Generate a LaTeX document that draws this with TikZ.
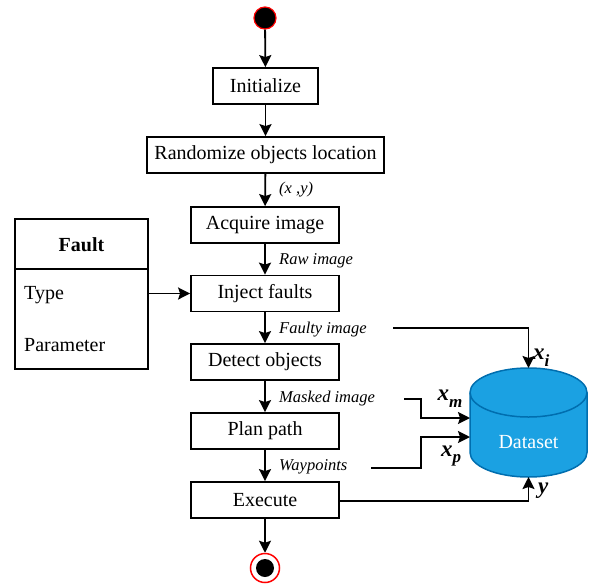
\documentclass[tikz,border=0pt]{standalone}
\usepackage{fontspec}
\setmainfont{Liberation Serif}
\usetikzlibrary{arrows.meta,shapes.geometric}
\definecolor{dsfill}{HTML}{1BA1E2}
\definecolor{dsdraw}{HTML}{006EAF}
\definecolor{startred}{HTML}{FF0000}
\newcommand\mlbl[2]{{\fontsize{23}{23}\selectfont\bfseries\itshape #1\raisebox{-0.3em}{\fontsize{17}{17}\selectfont #2}}}
\tikzset{
  stepbox/.style={draw=black, line width=1.8pt, fill=white, minimum height=36pt, inner sep=0pt, font=\fontsize{20}{20}\selectfont},
  arr/.style={line width=1.8pt, -{Stealth[length=12pt,width=12pt,inset=2pt]}},
  lbl/.style={font=\fontsize{16.5}{17}\selectfont\itshape, inner sep=0pt, anchor=west},
  fieldtxt/.style={font=\fontsize{20}{20}\selectfont, inner sep=0pt, anchor=west},
}
\begin{document}
\begin{tikzpicture}[x=1pt,y=-1pt]
\useasboundingbox (0,0) rectangle (592,584);
% start / end
\node[circle, fill=black, draw=startred, line width=1.2pt, minimum size=22pt, inner sep=0pt] (start) at (265,18) {};
\node[circle, draw=startred, line width=1.5pt, fill=white, minimum size=29pt, inner sep=0pt] (stop) at (265,568) {};
\node[circle, fill=black, minimum size=18pt, inner sep=0pt] (stopdot) at (265,568) {};
% process boxes
\node[stepbox, minimum width=105pt] (init) at (265.5,86) {Initialize};
\node[stepbox, minimum width=237pt] (rand) at (265.5,155) {Randomize objects location};
\node[stepbox, minimum width=148pt] (acq) at (265,225) {Acquire image};
\node[stepbox, minimum width=148pt] (inj) at (265,293.5) {Inject faults};
\node[stepbox, minimum width=148pt] (det) at (265,362) {Detect objects};
\node[stepbox, minimum width=148pt] (plan) at (265,431) {Plan path};
\node[stepbox, minimum width=148pt] (exec) at (265,500) {Execute};
% fault class box
\node[draw=black, line width=1.8pt, minimum width=133pt, minimum height=150pt, inner sep=0pt] (fault) at (81.5,294) {};
\draw[line width=1.8pt] (fault.west |- 0,269) coordinate (hl) -- (fault.east |- hl);
\node[font=\fontsize{20}{20}\selectfont\bfseries] (faultttl) at (81.5,245) {Fault};
\node[fieldtxt] (ftype) at (24,295) {Type};
\node[fieldtxt] (fparam) at (24,345) {Parameter};
% dataset cylinder
\def\rx{58.5}\def\ry{24.5}
\fill[dsfill] (470,392.5) -- (470,452.5) arc[start angle=180,end angle=0,x radius=\rx,y radius=\ry] -- (587,392.5) arc[start angle=0,end angle=-180,x radius=\rx,y radius=\ry] -- cycle;
\draw[dsdraw, line width=1.5pt] (470,392.5) -- (470,452.5) arc[start angle=180,end angle=0,x radius=\rx,y radius=\ry] -- (587,392.5) arc[start angle=0,end angle=-180,x radius=\rx,y radius=\ry] -- cycle;
\draw[dsdraw, line width=1.5pt] (470,392.5) arc[start angle=180,end angle=0,x radius=\rx,y radius=\ry];
\node[text=white, font=\fontsize{20}{20}\selectfont] (ds) at (528.5,442) {Dataset};
\coordinate (dstop) at (528.5,368);
\coordinate (dsbot) at (528.5,477);
\coordinate (dsm) at (470,418);
\coordinate (dsp) at (470,437);
% main flow
\draw[arr] (start) -- (init);
\draw[arr] (init) -- (rand);
\draw[arr] (rand) -- (acq);
\node[lbl] (lxy) at (279,190) {(x ,y)};
\draw[arr] (acq) -- (inj);
\node[lbl] (lraw) at (279,261) {Raw image};
\draw[arr] (inj) -- (det);
\node[lbl] (lfaulty) at (279,330) {Faulty image};
\draw[arr] (det) -- (plan);
\node[lbl] (lmask) at (279,399) {Masked image};
\draw[arr] (plan) -- (exec);
\node[lbl] (lway) at (279,467) {Waypoints};
\draw[arr] (exec) -- (stop);
\draw[arr] (fault.east |- inj.west) -- (inj.west);
% dataset inputs
\coordinate (fi) at (393,328);
\draw[arr] (fi) -| (dstop);
\coordinate (mi) at (404,399);
\draw[arr] (mi) -- (421,399) |- (dsm);
\coordinate (pi) at (371,468);
\draw[arr] (pi) -- (421,468) |- (dsp);
\draw[arr] (exec.east |- 0,501) -| (dsbot);
\node[inner sep=0pt, anchor=west] (lxi) at (533,358) {\mlbl{x}{i}};
\node[inner sep=0pt] (lxm) at (450,399) {\mlbl{x}{m}};
\node[inner sep=0pt] (lxp) at (451,456) {\mlbl{x}{p}};
\node[inner sep=0pt, anchor=west] (ly) at (538,492) {\mlbl{y}{}};
\end{tikzpicture}
\end{document}
